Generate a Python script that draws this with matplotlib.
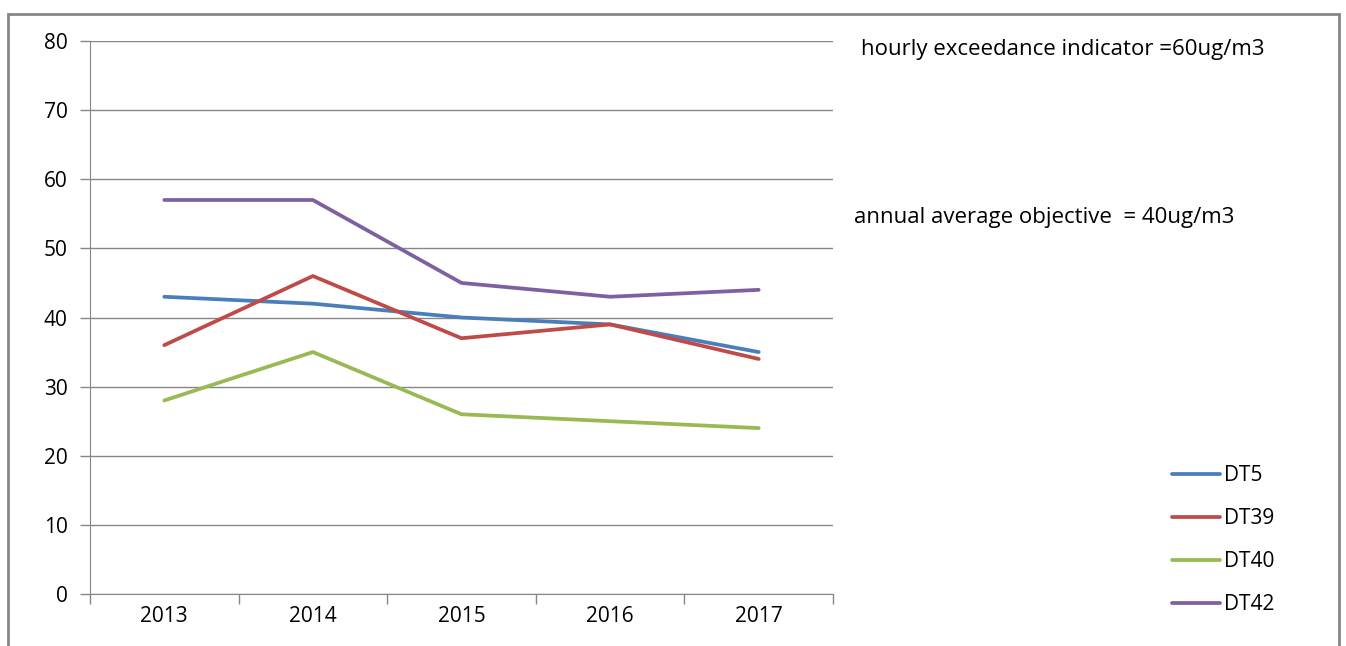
import matplotlib.pyplot as plt
from matplotlib.patches import Rectangle

plt.rcParams['font.family'] = ['Open Sans', 'DejaVu Sans']

years = ['2013', '2014', '2015', '2016', '2017']
dt5 = [43, 42, 40, 39, 35]
dt39 = [36, 46, 37, 39, 34]
dt40 = [28, 35, 26, 25, 24]
dt42 = [57, 57, 45, 43, 44]

series = [
    ('DT5', dt5, '#4a7ebb'),
    ('DT39', dt39, '#be4b48'),
    ('DT40', dt40, '#98b954'),
    ('DT42', dt42, '#7d60a0'),
]

grey = '#868686'
fs = 15

fig = plt.figure(figsize=(13.46, 6.46), dpi=100)
W, H = 1346, 646

# outer frame (bottom edge runs off the image)
fig.patches.append(Rectangle((8 / W, -0.01), (1339 - 8) / W, (H - 14) / H + 0.01,
                             transform=fig.transFigure, fill=False,
                             edgecolor=grey, linewidth=2))

ax = fig.add_axes([90 / W, (H - 594) / H, (833 - 90) / W, (594 - 41) / H])

x = [i + 0.5 for i in range(len(years))]
for name, vals, color in series:
    ax.plot(x, vals, color=color, linewidth=2.7, label=name,
            solid_capstyle='round', solid_joinstyle='round')

ax.set_xlim(0, len(years))
ax.set_ylim(0, 80)
ax.set_yticks(range(0, 81, 10))
ax.yaxis.grid(True, color=grey, linewidth=1)
ax.set_axisbelow(True)

ax.set_xticks(range(len(years) + 1))
ax.set_xticklabels([])
ax.set_xticks(x, minor=True)
ax.set_xticklabels(years, minor=True)
ax.tick_params(axis='x', which='major', length=7, color=grey, width=1)
ax.tick_params(axis='x', which='minor', length=0, pad=9, labelsize=fs)
ax.tick_params(axis='y', length=7, color=grey, width=1, pad=9, labelsize=fs)

for side in ['top', 'right']:
    ax.spines[side].set_visible(False)
ax.spines['left'].set_color(grey)
ax.spines['bottom'].set_color(grey)

fig.text(861 / W, 1 - 49 / H, 'hourly exceedance indicator =60ug/m3',
         fontsize=16, va='center', ha='left')
fig.text(854 / W, 1 - 218 / H, 'annual average objective  = 40ug/m3',
         fontsize=16, va='center', ha='left')

fig.legend(loc='center left', bbox_to_anchor=(1153 / W, 1 - 540 / H),
           frameon=False, fontsize=fs, handlelength=2.3, handletextpad=0.2,
           labelspacing=1.05)

fig.savefig('out.png', dpi=100)
